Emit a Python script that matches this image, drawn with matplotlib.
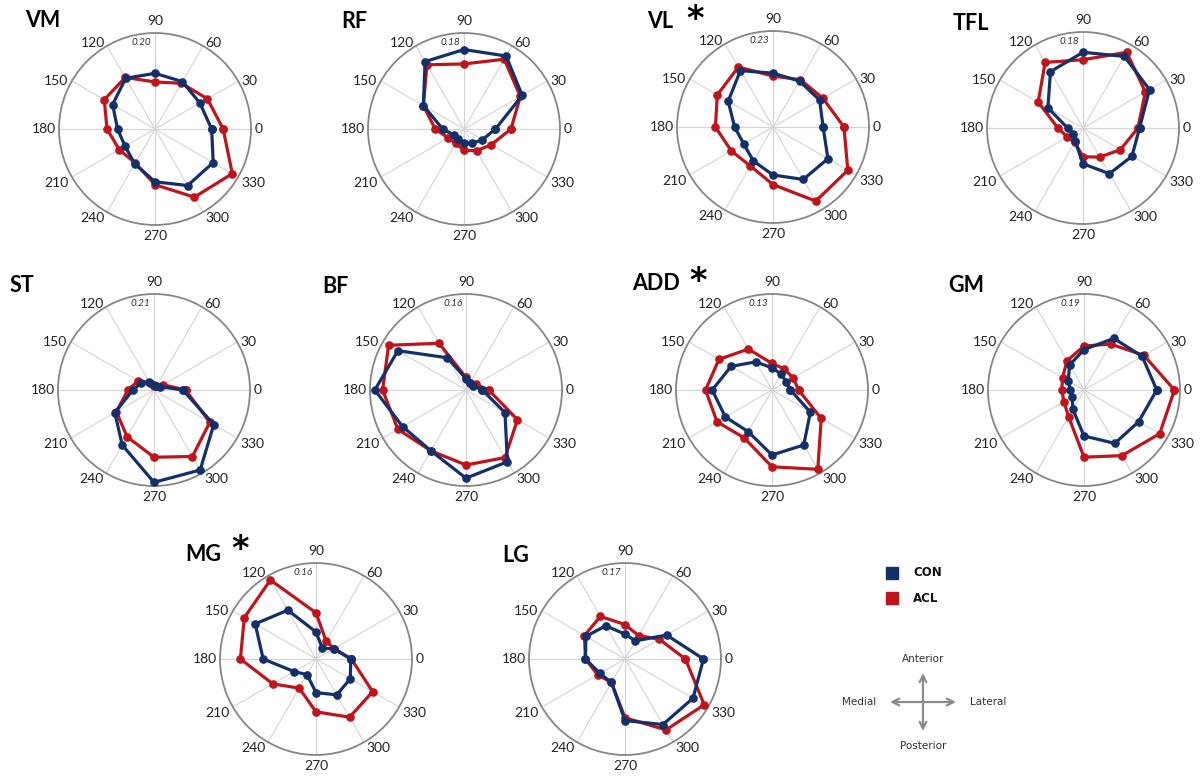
import numpy as np
import matplotlib.pyplot as plt
from matplotlib.patches import Rectangle

W, H = 1201, 780
R = 96  # radius of every polar panel, px

angles = list(range(0, 360, 30))

muscles = ['VM', 'RF', 'VL', 'TFL', 'ST', 'BF', 'ADD', 'GM', 'MG', 'LG']
starred = ['VL', 'ADD', 'MG']
r_max = [0.20, 0.18, 0.23, 0.18, 0.21, 0.16, 0.13, 0.19, 0.16, 0.17]

# activity per direction (0..330 deg), control vs ACL group
vm_con = [0.118, 0.108, 0.114, 0.116, 0.122, 0.102, 0.078, 0.072, 0.084, 0.110, 0.136, 0.140]
vm_acl = [0.142, 0.126, 0.110, 0.098, 0.124, 0.122, 0.100, 0.086, 0.082, 0.116, 0.164, 0.186]
rf_con = [0.059, 0.126, 0.158, 0.149, 0.146, 0.088, 0.040, 0.022, 0.022, 0.027, 0.031, 0.040]
rf_acl = [0.088, 0.122, 0.151, 0.122, 0.139, 0.088, 0.054, 0.034, 0.031, 0.040, 0.047, 0.059]
vl_con = [0.120, 0.129, 0.127, 0.129, 0.156, 0.124, 0.092, 0.081, 0.094, 0.115, 0.145, 0.152]
vl_acl = [0.170, 0.138, 0.131, 0.122, 0.166, 0.154, 0.138, 0.115, 0.108, 0.138, 0.205, 0.207]
tfl_con = [0.106, 0.144, 0.155, 0.142, 0.122, 0.076, 0.029, 0.022, 0.029, 0.067, 0.099, 0.106]
tfl_acl = [0.103, 0.135, 0.164, 0.128, 0.142, 0.097, 0.047, 0.034, 0.031, 0.054, 0.063, 0.081]
st_con = [0.063, 0.015, 0.010, 0.010, 0.021, 0.032, 0.046, 0.099, 0.139, 0.202, 0.202, 0.151]
st_acl = [0.069, 0.023, 0.010, 0.008, 0.017, 0.040, 0.057, 0.095, 0.118, 0.147, 0.168, 0.141]
bf_con = [0.027, 0.014, 0.013, 0.019, 0.062, 0.131, 0.152, 0.122, 0.117, 0.147, 0.138, 0.075]
bf_acl = [0.038, 0.019, 0.014, 0.021, 0.090, 0.149, 0.139, 0.131, 0.117, 0.125, 0.130, 0.099]
add_con = [0.025, 0.022, 0.025, 0.030, 0.044, 0.064, 0.081, 0.073, 0.065, 0.088, 0.086, 0.060]
add_acl = [0.036, 0.033, 0.033, 0.036, 0.064, 0.083, 0.090, 0.086, 0.075, 0.104, 0.124, 0.077]
gm_con = [0.144, 0.133, 0.118, 0.080, 0.057, 0.036, 0.027, 0.027, 0.044, 0.091, 0.122, 0.125]
gm_acl = [0.179, 0.137, 0.105, 0.087, 0.067, 0.049, 0.044, 0.046, 0.061, 0.133, 0.150, 0.173]
mg_con = [0.058, 0.034, 0.021, 0.045, 0.094, 0.117, 0.088, 0.042, 0.030, 0.056, 0.069, 0.066]
mg_acl = [0.059, 0.035, 0.034, 0.077, 0.152, 0.138, 0.126, 0.083, 0.056, 0.088, 0.112, 0.109]
lg_con = [0.139, 0.085, 0.037, 0.044, 0.068, 0.080, 0.070, 0.051, 0.048, 0.109, 0.134, 0.139]
lg_acl = [0.107, 0.070, 0.048, 0.061, 0.087, 0.083, 0.070, 0.056, 0.048, 0.104, 0.145, 0.162]

con_data = [vm_con, rf_con, vl_con, tfl_con, st_con, bf_con, add_con, gm_con, mg_con, lg_con]
acl_data = [vm_acl, rf_acl, vl_acl, tfl_acl, st_acl, bf_acl, add_acl, gm_acl, mg_acl, lg_acl]

# panel centres and title anchors, px from top-left
centres = [(155, 129), (464, 129), (773, 127), (1083, 128),
           (154, 390), (466, 390), (772, 390), (1084, 390),
           (316, 659), (625, 659)]
title_pos = [(25, 27), (341, 28), (647, 28), (953, 30),
             (10, 292), (322, 293), (632, 290), (948, 292),
             (185, 561), (502, 562)]
star_pos = {'VL': (695, 18), 'ADD': (698, 280), 'MG': (240, 548)}

NAVY = '#13306a'
RED = '#c0141c'
FONT = 'Lato'

fig = plt.figure(figsize=(W / 100, H / 100), dpi=100)

# full-figure overlay in pixel coordinates for titles, legend and compass
ov = fig.add_axes([0, 0, 1, 1])
ov.set_xlim(0, W)
ov.set_ylim(H, 0)
ov.axis('off')
ov.patch.set_alpha(0)


def angle_label(ax, a, rmax):
    c, s = np.cos(np.deg2rad(a)), np.sin(np.deg2rad(a))
    if abs(c) < 0.1:
        ha = 'center'
        va = 'bottom' if s > 0 else 'top'
        off = (0, 4.5 if s > 0 else -3.5)
    else:
        ha = 'left' if c > 0 else 'right'
        va = 'center'
        dy = 2.0 if s > 0.6 else (-4.0 if s < -0.1 else 0.0)
        dx = 1.5 if abs(c) < 0.6 else 2.5
        off = (dx * np.sign(c), dy)
    ax.annotate(str(a), xy=(np.deg2rad(a), rmax), xytext=off,
                textcoords='offset points', ha=ha, va=va,
                fontsize=10, family=FONT, color='#222222',
                annotation_clip=False)


for i, name in enumerate(muscles):
    cx, cy = centres[i]
    rmax = r_max[i]
    ax = fig.add_axes([(cx - R) / W, 1 - (cy + R) / H, 2 * R / W, 2 * R / H],
                      projection='polar')
    th = np.deg2rad(angles + angles[:1])
    acl = acl_data[i] + acl_data[i][:1]
    con = con_data[i] + con_data[i][:1]
    ax.plot(th, acl, color=RED, lw=2.3, marker='o', ms=5.2, zorder=3, clip_on=False)
    ax.plot(th, con, color=NAVY, lw=2.3, marker='o', ms=5.2, zorder=4, clip_on=False)
    ax.set_ylim(0, rmax)
    ax.set_yticks([])
    ax.set_thetagrids(angles, labels=[])
    ax.grid(color='#d4d4d4', lw=0.8)
    ax.spines['polar'].set_color('#868686')
    ax.spines['polar'].set_linewidth(1.3)
    for a in angles:
        angle_label(ax, a, rmax)
    ax.annotate(f'{rmax:.2f}', xy=(0, 0), xytext=(-9.5, 62),
                textcoords='offset points', ha='center', va='center',
                fontsize=7.2, style='italic', family=FONT, color='#333333')

    tx, ty = title_pos[i]
    ov.text(tx, ty, name, ha='left', va='baseline', fontsize=15.5,
            fontweight='bold', family=FONT, color='black')
    if name in starred:
        sx, sy = star_pos[name]
        ov.text(sx, sy, r'$\mathbf{*}$', ha='center', va='center',
                fontsize=24, color='black')

# legend
for j, (lab, col) in enumerate([('CON', NAVY), ('ACL', RED)]):
    y = 573 + 25 * j
    ov.add_patch(Rectangle((886, y - 6), 12, 12, color=col))
    ov.text(913, y, lab, ha='left', va='center', fontsize=8.5,
            fontweight='bold', family='DejaVu Sans', color='#111111')

# anatomical direction compass
ox, oy = 923, 702
for dx, dy in [(-33, 0), (33, 0), (0, -29), (0, 29)]:
    ov.annotate('', xy=(ox + dx, oy + dy), xytext=(ox, oy),
                arrowprops=dict(arrowstyle='->', color='#8a8a8a', lw=1.6,
                                mutation_scale=12, shrinkA=0, shrinkB=0))
ov.text(ox, 659, 'Anterior', ha='center', va='center', fontsize=7.5, color='#333333')
ov.text(ox, 746, 'Posterior', ha='center', va='center', fontsize=7.5, color='#333333')
ov.text(859, oy, 'Medial', ha='center', va='center', fontsize=7.5, color='#333333')
ov.text(988, oy, 'Lateral', ha='center', va='center', fontsize=7.5, color='#333333')

fig.savefig('out.png', dpi=100)
